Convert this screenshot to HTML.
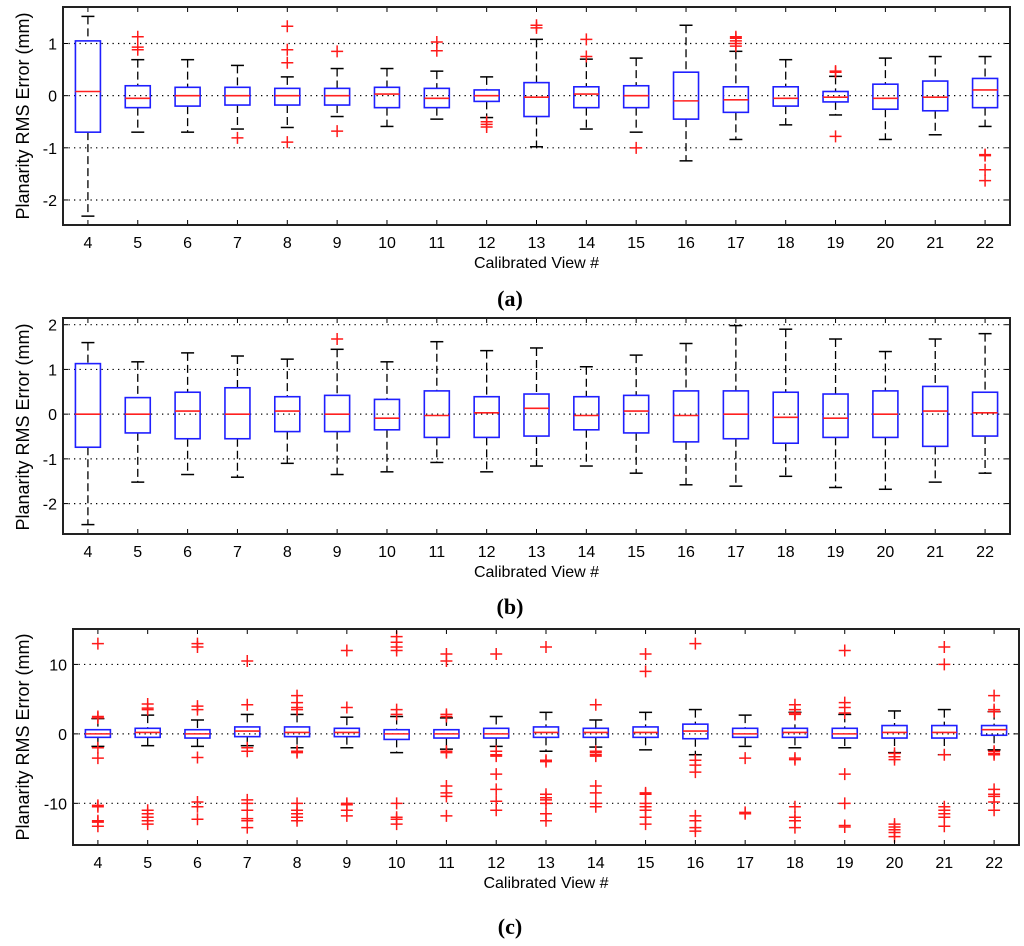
<!DOCTYPE html>
<html><head><meta charset="utf-8"><style>
html,body{margin:0;padding:0;background:#fff;}
svg{display:block;}
text{font-family:"Liberation Sans",Arial,sans-serif;}
</style></head><body>
<svg id="fig" width="1024" height="946" viewBox="0 0 1024 946" xmlns="http://www.w3.org/2000/svg"></svg>
<script>
// ---------- data ----------
const categories = [4,5,6,7,8,9,10,11,12,13,14,15,16,17,18,19,20,21,22];
// panel a
const aHigh = [1.52,0.69,0.69,0.58,0.36,0.52,0.52,0.47,0.36,1.08,0.70,0.72,1.35,0.85,0.69,0.37,0.72,0.75,0.75];
const aQ3   = [1.05,0.19,0.16,0.16,0.14,0.14,0.16,0.14,0.11,0.25,0.17,0.19,0.45,0.17,0.17,0.08,0.22,0.28,0.33];
const aMed  = [0.08,-0.05,0,0,0,0,0.03,-0.05,0,-0.03,0.03,0,-0.10,-0.08,-0.05,-0.03,-0.05,-0.03,0.11];
const aQ1   = [-0.70,-0.23,-0.20,-0.18,-0.18,-0.18,-0.23,-0.23,-0.11,-0.40,-0.23,-0.23,-0.45,-0.32,-0.20,-0.12,-0.26,-0.29,-0.23];
const aLow  = [-2.31,-0.70,-0.70,-0.64,-0.61,-0.40,-0.59,-0.45,-0.42,-0.98,-0.64,-0.70,-1.25,-0.84,-0.56,-0.37,-0.84,-0.75,-0.59];
const aOut  = [[],[1.13,0.93,0.88],[],[-0.81],[1.33,0.88,0.63,-0.89],[0.85,-0.68],[],[1.03,0.86],[-0.50,-0.55,-0.60],[1.30,1.35],[1.08,0.75],[-1.0],[],[1.0,1.05,1.1,1.13,0.95],[],[0.47,0.45,-0.78],[],[],[-1.15,-1.13,-1.42,-1.63]];
// panel b
const bHigh = [1.60,1.17,1.37,1.30,1.23,1.45,1.17,1.62,1.42,1.48,1.06,1.32,1.58,1.98,1.90,1.68,1.40,1.68,1.80];
const bQ3   = [1.13,0.37,0.49,0.59,0.39,0.42,0.33,0.52,0.39,0.45,0.39,0.42,0.52,0.52,0.49,0.45,0.52,0.62,0.49];
const bMed  = [0,0,0.07,0,0.07,0,-0.09,-0.03,0.03,0.13,-0.03,0.07,-0.03,0,-0.07,-0.09,0,0.07,0.03];
const bQ1   = [-0.74,-0.42,-0.55,-0.55,-0.39,-0.39,-0.35,-0.52,-0.52,-0.49,-0.35,-0.42,-0.62,-0.55,-0.65,-0.52,-0.52,-0.72,-0.49];
const bLow  = [-2.47,-1.52,-1.35,-1.41,-1.10,-1.35,-1.29,-1.08,-1.29,-1.16,-1.16,-1.32,-1.58,-1.61,-1.39,-1.64,-1.68,-1.52,-1.32];
const bOut  = [[],[],[],[],[],[1.68],[],[],[],[],[],[],[],[],[],[],[],[],[]];
// panel c
const cHigh = [2.2,2.7,2.0,2.8,2.8,2.4,2.5,2.3,2.5,3.1,2.0,3.1,3.5,2.7,3.1,2.8,3.3,3.5,3.2];
const cQ3   = [0.6,0.8,0.6,1.0,1.0,0.8,0.6,0.6,0.8,1.0,0.8,1.0,1.4,0.8,0.8,0.8,1.2,1.2,1.2];
const cMed  = [0,0.2,0,0.4,0.2,0.2,0,0,0,0.2,0.2,0.2,0.4,0,0.2,0,0.2,0.2,0.6];
const cQ1   = [-0.5,-0.5,-0.6,-0.4,-0.4,-0.4,-0.8,-0.6,-0.6,-0.5,-0.5,-0.5,-0.7,-0.5,-0.5,-0.6,-0.6,-0.6,-0.2];
const cLow  = [-1.8,-1.7,-1.8,-1.7,-2.0,-2.0,-2.7,-2.2,-1.8,-2.5,-1.9,-2.3,-3.0,-1.8,-2.0,-2.0,-2.7,-3.0,-2.3];
const cOut  = [
 [13,2.5,2.3,-2,-3.5,-10.3,-10.5,-12.5,-12.7,-13.3],
 [4.3,3.7,3.5,-11,-11.5,-12,-12.5,-13],
 [13,12.5,4,3.5,-3.4,-9.8,-10.5,-12.3],
 [10.5,4.2,-2,-2.5,-9.5,-10,-11,-12.2,-12.5,-13.5],
 [5.5,4.5,3.8,3.5,-2.5,-2.7,-10,-11,-11.5,-12,-12.5],
 [12,3.8,-10,-10.2,-11,-11.8],
 [14,13.2,12.5,12,3.5,2.8,-10,-12,-12.3,-13],
 [11.5,10.5,2.8,2.5,-2.5,-2.7,-7.5,-8.5,-9,-11.8],
 [11.5,-2.5,-3,-3.2,-5.8,-8,-9.7,-11],
 [12.5,-3.8,-4,-8.7,-9.2,-9.5,-10,-11.5,-12.5],
 [4.2,-2.5,-2.7,-3,-3.2,-7.5,-8.5,-10,-10.5],
 [11.5,9,-8.5,-8.7,-10,-10.5,-11,-12,-13],
 [13,-3.8,-4.5,-5.5,-11.8,-12.5,-13.5,-14],
 [-3.5,-11.3,-11.5],
 [4.2,3.5,3.0,2.8,-3.5,-3.7,-10.5,-12,-12.5,-13.5],
 [12,4.5,3.8,3.0,-5.8,-10,-13.2,-13.4],
 [-2.8,-3.3,-3.7,-13,-13.4,-13.8,-14.2,-14.8],
 [12.5,10,-3,-10.5,-11,-11.5,-12,-13.3],
 [5.5,3.5,3.2,-2.5,-2.8,-3,-8,-8.7,-9,-9.8,-11]];
const aTicks = [1,0,-1,-2];
const bTicks = [2,1,0,-1,-2];
const cTicks = [10,0,-10];

// ---------- drawing ----------
const NS='http://www.w3.org/2000/svg';
const svg=document.getElementById('fig');
function mk(tag,attrs,parent){const e=document.createElementNS(NS,tag);for(const k in attrs)e.setAttribute(k,attrs[k]);(parent||svg).appendChild(e);return e;}

function panel(id,box,ymin,ymax,ticks,high,q3,med,q1,low,outs,capY,ylabY){
  const g=mk('g',{});
  
  
  const L=box[0],T=box[1],R=box[2],B=box[3];
  const xs=v=>L+(v-3.5)/19*(R-L);
  const ys=v=>B-(v-ymin)/(ymax-ymin)*(B-T);
  ticks.forEach(t=>{
    const y=ys(t);
    const gl=mk('line',{x1:L,x2:R,y1:y,y2:y,stroke:'#000','stroke-width':1.2,'stroke-dasharray':'1.3 4.2'},g);
    
    
    mk('line',{x1:L,x2:L+5,y1:y,y2:y,stroke:'#000','stroke-width':1},g);
    mk('line',{x1:R-5,x2:R,y1:y,y2:y,stroke:'#000','stroke-width':1},g);
    const tl=mk('text',{x:L-6,y:y+6,'text-anchor':'end','font-size':16,fill:'#000'},g);
    tl.textContent=t;
    
    
  });
  categories.forEach((c,i)=>{
    const x=xs(c),hw=12.5,cw=6.5;
    const bg=mk('g',{},g);
    
    
    mk('line',{x1:x,x2:x,y1:ys(high[i]),y2:ys(q3[i]),stroke:'#000','stroke-width':1.3,'stroke-dasharray':'8 4'},bg);
    mk('line',{x1:x,x2:x,y1:ys(q1[i]),y2:ys(low[i]),stroke:'#000','stroke-width':1.3,'stroke-dasharray':'8 4'},bg);
    mk('line',{x1:x-cw,x2:x+cw,y1:ys(high[i]),y2:ys(high[i]),stroke:'#000','stroke-width':1.5},bg);
    mk('line',{x1:x-cw,x2:x+cw,y1:ys(low[i]),y2:ys(low[i]),stroke:'#000','stroke-width':1.5},bg);
    mk('rect',{x:x-hw,y:ys(q3[i]),width:2*hw,height:Math.max(1,ys(q1[i])-ys(q3[i])),fill:'none',stroke:'#1f1fff','stroke-width':1.6},bg);
    mk('line',{x1:x-hw,x2:x+hw,y1:ys(med[i]),y2:ys(med[i]),stroke:'#ff2020','stroke-width':1.6},bg);
    outs[i].forEach(o=>{
      const y=ys(o);
      const p=mk('path',{d:`M${x-6} ${y}H${x+6}M${x} ${y-6}V${y+6}`,stroke:'#ff1a1a','stroke-width':1.5,fill:'none'},bg);
      
      
    });
    const xl=mk('text',{x:x,y:B+23,'text-anchor':'middle','font-size':16,fill:'#000'},g);
    xl.textContent=c;
    
    
    mk('line',{x1:x,x2:x,y1:B,y2:B-5,stroke:'#000','stroke-width':1},g);
    mk('line',{x1:x,x2:x,y1:T,y2:T+5,stroke:'#000','stroke-width':1},g);
  });
  const fr=mk('rect',{x:L,y:T,width:R-L,height:B-T,fill:'none',stroke:'#222','stroke-width':2},g);
  
  
  const xt=mk('text',{x:(L+R)/2,y:B+43,'text-anchor':'middle','font-size':16,fill:'#000'},g);
  xt.textContent='Calibrated View #';
  
  
  const yt=mk('text',{x:0,y:0,'text-anchor':'middle','font-size':18,fill:'#000',transform:`translate(29 ${ylabY}) rotate(-90)`},g);
  yt.textContent='Planarity RMS Error (mm)';
  
  
  const cp=mk('text',{x:510,y:capY,'text-anchor':'middle','font-size':22,'font-weight':'bold',fill:'#000',style:'font-family:"Liberation Serif",serif'},g);
  cp.textContent='('+id+')';
  
  
}
panel('a',[63,7,1010,225],-2.48,1.70,aTicks,aHigh,aQ3,aMed,aQ1,aLow,aOut,306,116);
panel('b',[63,318,1010,534],-2.68,2.15,bTicks,bHigh,bQ3,bMed,bQ1,bLow,bOut,614,427);
panel('c',[73,629,1019,845],-16.0,15.1,cTicks,cHigh,cQ3,cMed,cQ1,cLow,cOut,934,737);
</script>
</body></html>
